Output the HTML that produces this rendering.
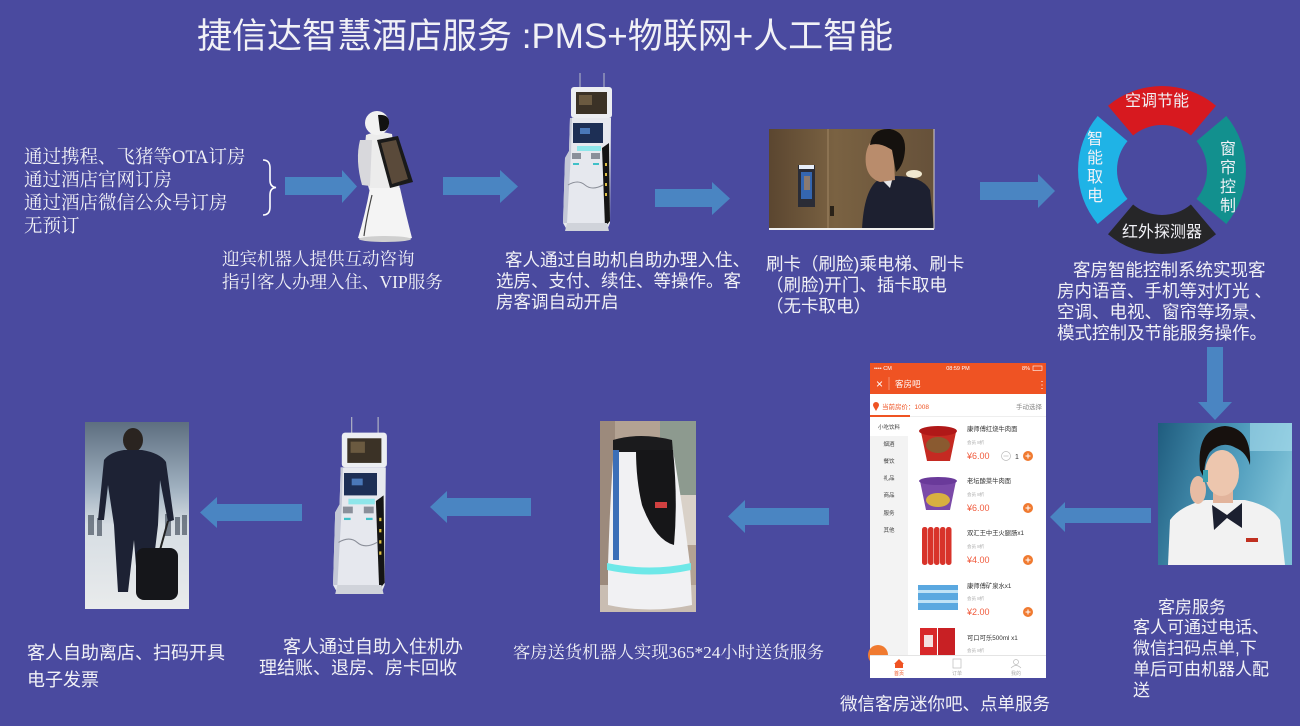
<!DOCTYPE html>
<html><head><meta charset="utf-8">
<style>
html,body{margin:0;padding:0;}
body{width:1300px;height:726px;overflow:hidden;background:#4A4A9F;position:relative;}
.t{position:absolute;white-space:pre;color:#f1f1f6;font-family:"Liberation Sans","Noto Sans CJK SC",sans-serif;}
.s{font-family:"Liberation Serif","Noto Serif CJK SC",serif;}
svg{position:absolute;left:0;top:0;}
</style></head><body>
<svg width="1300" height="726" viewBox="0 0 1300 726">
<defs>
 <g id="k">
  <line x1="17" y1="0" x2="17" y2="15" stroke="#b8bcc8" stroke-width="1"/>
  <line x1="41" y1="0" x2="41" y2="15" stroke="#b8bcc8" stroke-width="1"/>
  <rect x="8" y="14" width="41" height="31" rx="3" fill="#eceef2"/>
  <rect x="13" y="19" width="31" height="22" fill="#3b3226"/>
  <rect x="16" y="22" width="13" height="10" fill="#6b5a40"/>
  <path d="M7,45 L48,45 L47,150 L44,157 L4,157 L0,150 L2,85 L6,78 Z" fill="#e6e8ee"/>
  <path d="M2,85 L6,78 L7,45 L9,45 L8,80 L4,150 L0,150Z" fill="#c4c8d6"/>
  <rect x="10" y="50" width="30" height="20" fill="#1d2f55"/>
  <rect x="17" y="55" width="10" height="6" fill="#4a78b8"/>
  <rect x="14" y="73" width="24" height="5" fill="#8fe6ea"/>
  <rect x="9" y="80" width="9" height="6" fill="#8a8f9a"/>
  <rect x="28" y="80" width="9" height="6" fill="#8a8f9a"/>
  <rect x="10" y="90" width="6" height="2" fill="#40c0c8"/>
  <rect x="30" y="90" width="6" height="2" fill="#40c0c8"/>
  <path d="M5,112 Q15,106 22,112 T40,112" stroke="#8a8e98" fill="none" stroke-width="1"/>
  <path d="M39,75 L46,70 L47,148 L42,154 Z" fill="#151515"/>
  <rect x="42" y="90" width="2" height="3" fill="#e0c040"/>
  <rect x="42" y="100" width="2" height="3" fill="#e0c040"/>
  <rect x="42" y="110" width="2" height="3" fill="#e0c040"/>
  <rect x="42" y="120" width="2" height="3" fill="#e0c040"/>
  <path d="M4,150 L44,150 L46,158 L2,158Z" fill="#d0d3da"/>
 </g>
 <linearGradient id="elv" x1="0" x2="1"><stop offset="0" stop-color="#5b4630"/><stop offset="0.4" stop-color="#7a6242"/><stop offset="1" stop-color="#66513a"/></linearGradient>
 <linearGradient id="ap" x1="0" y1="0" x2="0" y2="1"><stop offset="0" stop-color="#5d6e80"/><stop offset="0.35" stop-color="#9fb0bf"/><stop offset="0.55" stop-color="#d6dde3"/><stop offset="1" stop-color="#e9ebec"/></linearGradient>
 <linearGradient id="wb" x1="0" y1="0" x2="1" y2="0.3"><stop offset="0" stop-color="#1f5c7e"/><stop offset="0.6" stop-color="#4f9cbc"/><stop offset="1" stop-color="#7cc0d6"/></linearGradient>
</defs>

<!-- brace -->
<path d="M263,160 Q270,160 270,168 L270,180 Q270,187 276,187.5 Q270,188 270,195 L270,207 Q270,215 263,215" stroke="#fff" stroke-width="1.6" fill="none"/>

<!-- arrows -->
<g fill="#4A85C2">
 <polygon points="285,177 342,177 342,170 357,186.5 342,203 342,195 285,195"/>
 <polygon points="443,177 500,177 500,170 518,186.5 500,203 500,195 443,195"/>
 <polygon points="655,189 712,189 712,182 730,198.5 712,215 712,207 655,207"/>
 <polygon points="980,182 1038,182 1038,174 1055,191 1038,208 1038,200 980,200"/>
 <polygon points="1207,347 1223,347 1223,402 1232,402 1215,420 1198,402 1207,402"/>
 <polygon points="1151,508 1065,508 1065,502 1050,517 1065,532 1065,523 1151,523"/>
 <polygon points="829,508 745,508 745,500 728,516.5 745,533 745,525 829,525"/>
 <polygon points="531,498 447,498 447,491 430,507 447,523 447,516 531,516"/>
 <polygon points="302,504 217,504 217,497 200,512.5 217,528 217,521 302,521"/>
</g>

<!-- robot 1 -->
<g>
 <path d="M366,135 Q377,130 392,134 L400,190 L370,192 Q362,170 366,135Z" fill="#ececec"/>
 <path d="M360,140 Q355,160 362,185 L370,186 L372,140Z" fill="#d8d8dc"/>
 <ellipse cx="377" cy="123" rx="12" ry="12" fill="#f2f2f2"/>
 <path d="M378,115 Q390,114 389,124 Q388,132 380,131 Z" fill="#111"/>
 <path d="M370,188 L400,188 Q406,215 412,238 Q386,245 358,238 Q365,215 370,188Z" fill="#f4f4f4"/>
 <path d="M372,195 Q366,220 364,236" stroke="#444" fill="none" stroke-width="1.2"/>
 <ellipse cx="385" cy="239" rx="26" ry="3" fill="#cfcfcf"/>
 <polygon points="377,140 398,136 413,182 390,188" fill="#1a1a1a"/>
 <polygon points="381,143 396,140 408,179 392,184" fill="#5a4a3a"/>
</g>

<!-- kiosks -->
<use href="#k" transform="translate(563,73)"/>
<use href="#k" transform="translate(333,417) scale(1.1,1.12)"/>

<!-- elevator photo -->
<rect x="769" y="129" width="165" height="100" fill="url(#elv)"/>
<rect x="827" y="129" width="2" height="100" fill="#8c7352"/>
<rect x="798" y="165" width="17" height="42" fill="#2a2c36"/>
<rect x="801" y="172" width="11" height="27" fill="#3466b0"/>
<rect x="804" y="176" width="6" height="14" fill="#8a7a70"/>
<rect x="799" y="165" width="15" height="4" fill="#e8eef8"/>
<rect x="830" y="206" width="4" height="10" fill="#2a2218"/>
<ellipse cx="914" cy="174" rx="8" ry="4" fill="#f0e8d0"/>
<path d="M862,229 Q864,190 878,180 L896,176 Q922,176 930,190 L934,229 Z" fill="#1d2030"/>
<path d="M880,178 L894,173 L890,188Z" fill="#e8e8ea"/>
<path d="M872,140 Q864,150 866,165 Q868,178 880,182 L895,180 L893,145 Z" fill="#b98c6c"/>
<path d="M870,145 Q872,128 890,129 Q906,132 905,150 Q904,165 896,172 L892,150 Q880,142 870,145Z" fill="#15110e"/>
<line x1="769" y1="229" x2="934" y2="229" stroke="#f0f0f0" stroke-width="2"/>
<line x1="934" y1="129" x2="934" y2="229" stroke="#d8d0c8" stroke-width="1"/>

<!-- ring -->
<path d="M1108,105.7 A84,84 0 0 1 1216,105.7 L1190.9,135.5 A45,45 0 0 0 1133.1,135.5 Z" fill="#D7191F"/>
<path d="M1097.7,224 A84,84 0 0 1 1097.7,116 L1127.5,141.1 A45,45 0 0 0 1127.5,198.9 Z" fill="#1FB3E6"/>
<path d="M1226.3,116 A84,84 0 0 1 1226.3,224 L1196.5,198.9 A45,45 0 0 0 1196.5,141.1 Z" fill="#12908E"/>
<path d="M1216,234.3 A84,84 0 0 1 1108,234.3 L1133.1,204.5 A45,45 0 0 0 1190.9,204.5 Z" fill="#262628"/>

<!-- man with luggage -->
<rect x="85" y="422" width="104" height="187" fill="url(#ap)"/>
<g fill="#4a5562" opacity="0.7">
 <rect x="88" y="515" width="6" height="20"/><rect x="97" y="518" width="5" height="18"/>
 <rect x="165" y="514" width="6" height="22"/><rect x="175" y="517" width="5" height="18"/><rect x="182" y="515" width="5" height="20"/>
</g>
<ellipse cx="133" cy="440" rx="10" ry="12" fill="#2a2420"/>
<path d="M104,460 Q110,452 124,450 L142,450 Q160,453 166,462 L174,520 L168,522 L160,480 L158,525 L150,592 L138,592 L134,540 L128,592 L118,592 L114,525 L108,485 L104,520 L98,520 Z" fill="#1d2234"/>
<line x1="168" y1="521" x2="160" y2="550" stroke="#222" stroke-width="2"/>
<rect x="136" y="548" width="42" height="52" rx="8" fill="#15161a"/>

<!-- delivery robot photo -->
<rect x="600" y="421" width="96" height="191" fill="#b3a293"/>
<rect x="600" y="421" width="15" height="191" fill="#9c8a7c"/>
<rect x="660" y="421" width="36" height="75" fill="#8d9a8f"/>
<rect x="668" y="495" width="28" height="50" fill="#d9d1c8"/>
<rect x="600" y="585" width="96" height="27" fill="#c9bdb2"/>
<path d="M614,445 L672,445 Q682,500 690,565 L692,605 Q650,614 608,605 L608,565 Q610,500 614,445Z" fill="#f1f1f3"/>
<path d="M613,440 Q640,432 672,440 L673,452 L613,452Z" fill="#1b1b1d"/>
<path d="M636,450 L673,450 Q678,500 674,545 Q655,540 642,505 Q636,480 636,450Z" fill="#161618"/>
<rect x="613" y="450" width="6" height="110" fill="#3b6fb8"/>
<path d="M607,563 Q650,572 691,563 L691,570 Q650,579 607,570Z" fill="#6ee8e8"/>
<rect x="655" y="502" width="12" height="6" fill="#d04040"/>

<!-- woman photo -->
<rect x="1158" y="423" width="134" height="142" fill="url(#wb)"/>
<rect x="1250" y="423" width="42" height="28" fill="#a8dcec" opacity="0.6"/>
<path d="M1168,565 L1170,520 Q1180,506 1205,500 L1245,500 Q1272,506 1280,520 L1285,565 Z" fill="#f2f2f2"/>
<rect x="1213" y="488" width="20" height="15" fill="#e2b49c"/>
<ellipse cx="1222" cy="473" rx="17" ry="23" fill="#edc6ae"/>
<path d="M1200,470 Q1196,428 1225,426 Q1252,428 1250,465 Q1246,452 1236,448 Q1222,440 1210,452 Q1204,460 1204,478Z" fill="#17110e"/>
<path d="M1212,505 L1227,515 L1242,503 L1242,528 L1227,518 L1214,530Z" fill="#1c2030"/>
<ellipse cx="1198" cy="490" rx="8" ry="14" fill="#e8bca4"/>
<rect x="1203" y="470" width="5" height="12" fill="#3aa0b0"/>
<rect x="1246" y="538" width="12" height="4" fill="#c03020"/>

<!-- phone -->
<rect x="870" y="363" width="176" height="315" fill="#ffffff"/>
<rect x="870" y="363" width="176" height="31" fill="#EF5323"/>
<g font-family="Liberation Sans, Noto Sans CJK SC, sans-serif">
<text x="874" y="370" font-size="5.5" fill="#fff">•••• CM</text>
<text x="958" y="370" font-size="5.5" fill="#fff" text-anchor="middle">08:59 PM</text>
<text x="1030" y="370" font-size="5.5" fill="#fff" text-anchor="end">8%</text>
<rect x="1033" y="366" width="9" height="4.5" fill="none" stroke="#fff" stroke-width="0.6"/>
<text x="876" y="388" font-size="12" fill="#fff">×</text>
<line x1="889" y1="377" x2="889" y2="390" stroke="#f8b8a0" stroke-width="0.6"/>
<text x="895" y="387" font-size="8.5" fill="#fff">客房吧</text>
<text x="1037" y="388" font-size="10" fill="#fff">⋮</text>
<circle cx="876" cy="405" r="3" fill="#EF5323"/>
<polygon points="873.4,406.5 878.6,406.5 876,411" fill="#EF5323"/>
<text x="882" y="409" font-size="6.5" fill="#EF5323">当前房价：1008</text>
<text x="1042" y="409" font-size="6.5" fill="#888" text-anchor="end">手动选择</text>
<rect x="870" y="415" width="40" height="2" fill="#EF5323"/>
<rect x="910" y="416" width="136" height="1" fill="#eee"/>
<rect x="870" y="418" width="38" height="237" fill="#f3f3f3"/>
<rect x="870" y="418" width="38" height="18" fill="#fff"/>
<g font-size="5.5" fill="#444" text-anchor="middle">
 <text x="889" y="429">小吃饮料</text><text x="889" y="446">烟酒</text><text x="889" y="463">餐饮</text>
 <text x="889" y="480">礼品</text><text x="889" y="497">商品</text><text x="889" y="515">服务</text><text x="889" y="532">其他</text>
</g>
<polygon points="921,432 956,432 950,461 927,461" fill="#c52a22"/>
<ellipse cx="938" cy="431" rx="19" ry="5" fill="#b01818"/>
<ellipse cx="938" cy="445" rx="12" ry="8" fill="#8a5a30"/>
<polygon points="920,481 956,481 950,510 926,510" fill="#7b4aa8"/>
<ellipse cx="938" cy="481" rx="19" ry="4" fill="#6a3a9a"/>
<ellipse cx="938" cy="500" rx="12" ry="7" fill="#d8b040"/>
<g fill="#d8332a">
 <rect x="922" y="527" width="5.5" height="38" rx="2.5"/><rect x="928" y="527" width="5.5" height="38" rx="2.5"/>
 <rect x="934" y="527" width="5.5" height="38" rx="2.5"/><rect x="940" y="527" width="5.5" height="38" rx="2.5"/>
 <rect x="946" y="527" width="5.5" height="38" rx="2.5"/>
</g>
<rect x="918" y="585" width="40" height="25" fill="#5aa8e0"/>
<rect x="918" y="590" width="40" height="3" fill="#bfe2f6"/>
<rect x="918" y="600" width="40" height="3" fill="#bfe2f6"/>
<rect x="920" y="628" width="17" height="27" fill="#d8282a"/>
<rect x="938" y="628" width="17" height="27" fill="#c82024"/>
<rect x="924" y="635" width="9" height="12" fill="#f4e0e0"/>
<g font-size="6.3" fill="#333">
 <text x="967" y="431">康师傅红烧牛肉面</text><text x="967" y="483">老坛酸菜牛肉面</text>
 <text x="967" y="535">双汇王中王火腿肠x1</text><text x="967" y="588">康师傅矿泉水x1</text><text x="967" y="640">可口可乐500ml x1</text>
</g>
<g font-size="4.5" fill="#aaa">
 <text x="967" y="444">会员 8折</text><text x="967" y="496">会员 8折</text><text x="967" y="548">会员 8折</text>
 <text x="967" y="600">会员 8折</text><text x="967" y="652">会员 8折</text>
</g>
<g font-size="9" fill="#F05A3C">
 <text x="967" y="459">¥6.00</text><text x="967" y="511">¥6.00</text><text x="967" y="563">¥4.00</text><text x="967" y="615">¥2.00</text>
</g>
<circle cx="1006" cy="456" r="4.5" fill="none" stroke="#bbb" stroke-width="0.7"/>
<line x1="1003.5" y1="456" x2="1008.5" y2="456" stroke="#bbb" stroke-width="0.7"/>
<text x="1017" y="459" font-size="7" fill="#333" text-anchor="middle">1</text>
<g fill="#F07A30">
 <circle cx="1028" cy="456" r="5"/><circle cx="1028" cy="508" r="5"/><circle cx="1028" cy="560" r="5"/><circle cx="1028" cy="612" r="5"/>
</g>
<g stroke="#fff" stroke-width="1">
 <path d="M1025.5,456 h5 M1028,453.5 v5"/><path d="M1025.5,508 h5 M1028,505.5 v5"/>
 <path d="M1025.5,560 h5 M1028,557.5 v5"/><path d="M1025.5,612 h5 M1028,609.5 v5"/>
</g>
<circle cx="878" cy="655" r="10" fill="#F07A30"/>
<rect x="870" y="655" width="176" height="23" fill="#fff"/>
<rect x="870" y="655" width="176" height="0.8" fill="#ddd"/>
<polygon points="894,664 899,659 904,664 903,664 903,668 895,668 895,664" fill="#EF5323"/>
<rect x="953" y="659" width="8" height="9" fill="none" stroke="#bbb" stroke-width="0.7"/>
<circle cx="1016" cy="662" r="2.5" fill="none" stroke="#bbb" stroke-width="0.7"/>
<path d="M1011,668 Q1016,663 1021,668" fill="none" stroke="#bbb" stroke-width="0.7"/>
<text x="899" y="675" font-size="5" fill="#EF5323" text-anchor="middle">首页</text>
<text x="957" y="675" font-size="5" fill="#aaa" text-anchor="middle">订单</text>
<text x="1016" y="675" font-size="5" fill="#aaa" text-anchor="middle">我的</text>
</g>
</svg>

<div class="t" style="left:197px;top:17px;font-size:35px;line-height:40px;">捷信达智慧酒店服务 :PMS+物联网+人工智能</div>

<div class="t s" style="left:24px;top:146.5px;font-size:18.5px;line-height:23px;">通过携程、飞猪等OTA订房
通过酒店官网订房
通过酒店微信公众号订房
无预订</div>

<div class="t s" style="left:222px;top:247.5px;font-size:17.5px;line-height:23px;">迎宾机器人提供互动咨询
指引客人办理入住、VIP服务</div>

<div class="t" style="left:505px;top:250px;font-size:17.5px;line-height:21px;">客人通过自助机自助办理入住、</div>
<div class="t" style="left:496px;top:271px;font-size:17.5px;line-height:21px;">选房、支付、续住、等操作。客
房客调自动开启</div>

<div class="t" style="left:766px;top:253.5px;font-size:17.5px;line-height:21px;">刷卡（刷脸)乘电梯、刷卡
（刷脸)开门、插卡取电
（无卡取电）</div>

<div class="t" style="left:1125px;top:91px;font-size:16px;line-height:22px;">空调节能</div>
<div class="t" style="left:1122px;top:222px;font-size:16px;line-height:22px;">红外探测器</div>
<div class="t" style="left:1087px;top:130px;font-size:16px;line-height:19px;">智
能
取
电</div>
<div class="t" style="left:1220px;top:140px;font-size:16px;line-height:19px;">窗
帘
控
制</div>

<div class="t" style="left:1073px;top:259.5px;font-size:17.5px;line-height:21px;">客房智能控制系统实现客</div>
<div class="t" style="left:1057px;top:280.5px;font-size:17.5px;line-height:21px;">房内语音、手机等对灯光 、
空调、电视、窗帘等场景、
模式控制及节能服务操作。</div>

<div class="t" style="left:1158px;top:596.5px;font-size:17px;line-height:21px;">客房服务</div>
<div class="t" style="left:1133px;top:617px;font-size:17px;line-height:21px;">客人可通过电话、
微信扫码点单,下
单后可由机器人配
送</div>

<div class="t" style="left:840px;top:693px;font-size:17.5px;line-height:22px;">微信客房迷你吧、点单服务</div>

<div class="t s" style="left:513px;top:642px;font-size:17.3px;line-height:22px;">客房送货机器人实现365*24小时送货服务</div>

<div class="t" style="left:283px;top:636px;font-size:18px;line-height:22px;">客人通过自助入住机办</div>
<div class="t" style="left:259px;top:657px;font-size:18px;line-height:22px;">理结账、退房、房卡回收</div>

<div class="t" style="left:27px;top:639.5px;font-size:18px;line-height:27px;">客人自助离店、扫码开具
电子发票</div>
</body></html>
